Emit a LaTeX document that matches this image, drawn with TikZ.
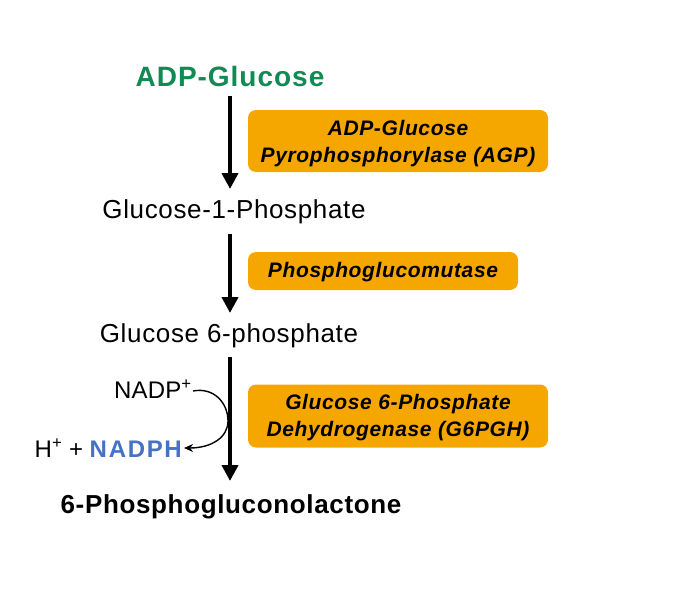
\documentclass[tikz,border=0pt]{standalone}
\usepackage{fontspec}
\setmainfont{Liberation Sans}
\usetikzlibrary{arrows.meta}
\definecolor{adpgreen}{RGB}{18,138,84}
\definecolor{enzorange}{RGB}{245,167,0}
\definecolor{nadpblue}{RGB}{68,114,196}
\tikzset{
  enzbox/.style={fill=enzorange, rounded corners=8pt, inner sep=0pt},
  enztext/.style={align=center, inner sep=0pt,
    font=\fontsize{21}{27}\selectfont\bfseries\itshape\addfontfeatures{LetterSpace=3}},
  metab/.style={inner sep=0pt, font=\fontsize{26}{30}\selectfont\addfontfeatures{LetterSpace=2.5}},
  rxn/.style={line width=4.5pt, -{Triangle[length=16pt,width=16pt]}},
  side/.style={line width=1.4pt, -{Stealth[length=9pt,width=8pt]}}
}
\begin{document}
\begin{tikzpicture}[x=1pt,y=-1pt]
\useasboundingbox (0,0) rectangle (683,594);
\node[inner sep=0pt, text=adpgreen, font=\fontsize{28}{32}\selectfont\bfseries\addfontfeatures{LetterSpace=3.5}] (adp) at (230,76) {ADP-Glucose};
\node[metab] (g1p) at (234,212) {Glucose-1-Phosphate};
\node[metab] (g6p) at (229,336) {Glucose 6-phosphate};
\node[inner sep=0pt, font=\fontsize{26}{30}\selectfont\bfseries\addfontfeatures{LetterSpace=2.5}] (pgl) at (231,507) {6-Phosphogluconolactone};

\node[enzbox, minimum width=300pt, minimum height=62pt] (agp) at (398,141) {};
\node[enztext] (agptxt) at ([yshift=-3pt]agp.center) {ADP-Glucose\\Pyrophosphorylase (AGP)};
\node[enzbox, minimum width=270pt, minimum height=38pt] (pgm) at (383,271) {};
\node[enztext] (pgmtxt) at ([yshift=-1pt]pgm.center) {Phosphoglucomutase};
\node[enzbox, minimum width=300pt, minimum height=63pt] (g6pdh) at (398,416) {};
\node[enztext] (g6pdhtxt) at ([yshift=-2pt]g6pdh.center) {Glucose 6-Phosphate\\Dehydrogenase (G6PGH)};

\coordinate (a1s) at (230,96);
\coordinate (a1e) at (230,189);
\coordinate (a2s) at (230,234);
\coordinate (a2e) at (230,313);
\coordinate (a3s) at (230,357);
\coordinate (a3e) at (230,481);
\draw[rxn] (a1s) -- (a1e);
\draw[rxn] (a2s) -- (a2e);
\draw[rxn] (a3s) -- (a3e);

\node[inner sep=0pt, anchor=east, font=\fontsize{24}{28}\selectfont\addfontfeatures{LetterSpace=1}] (nadp) at (192,389) {NADP\textsuperscript{+}};
\node[inner sep=0pt, anchor=east, font=\fontsize{24}{28}\selectfont] (nadph) at (182,448) {H\textsuperscript{+} + \textcolor{nadpblue}{\bfseries\addfontfeatures{LetterSpace=7}NADPH}};
\draw[side] ([xshift=1pt,yshift=-2pt]nadp.east) .. controls (214,387) and (228,403) .. (228,421) .. controls (228,437) and (212,448) .. ([xshift=2pt]nadph.east);
\end{tikzpicture}
\end{document}
